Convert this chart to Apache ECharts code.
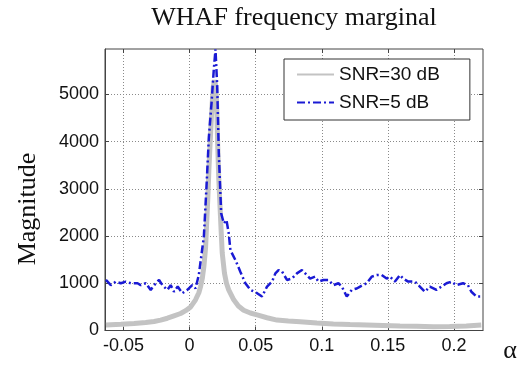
<!DOCTYPE html>
<html><head><meta charset="utf-8">
<script src="https://cdn.jsdelivr.net/npm/echarts@6/dist/echarts.min.js"></script>
<style>html,body{margin:0;padding:0;background:#fff}#c{width:520px;height:365px}</style>
</head><body><div id="c"></div>
<script>
var xTicks = [-0.05, 0, 0.05, 0.1, 0.15, 0.2];
var yTicks = [0, 1000, 2000, 3000, 4000, 5000];

var snr5Alpha = [-0.0633,-0.0596,-0.0558,-0.052,-0.0483,-0.0445,-0.0394,-0.037,-0.0332,-0.0294,-0.0256,-0.0231,-0.0206,-0.0168,-0.0143,-0.0118,-0.009,-0.0055,-0.0017,0.002,0.0045,0.007,
 0.0108,0.0128,0.0146,0.0166,0.0183,0.0196,0.0209,0.0221,0.0239,0.0259,0.0279,0.0296,0.0309,0.0347,0.0384,0.0422,0.046,0.0511,0.0548,0.0586,0.0624,0.0649,0.0673,0.0699,0.0737,0.0775,0.0812,0.085,0.0875,0.0912,0.095,0.0975,0.1013,0.1051,0.1088,0.1126,0.1152,0.1189,0.1227,0.1265,0.129,0.134,0.1378,0.1416,0.1453,0.1491,0.1516,0.1554,0.1592,0.1616,0.1654,0.1705,0.1742,0.178,0.1818,0.1868,0.1906,0.1944,0.1981,0.2019,0.2069,0.2106,0.2132,0.217,0.2207];
var snr5Mag = [1070,960,1035,1000,1035,1000,1000,960,1000,860,1000,1070,960,860,960,820,930,790,860,960,890,1180,
 1990,3050,4100,4810,5520,5950,5170,3750,2480,2270,2340,2060,1700,1490,1245,1000,860,790,720,930,1035,1210,1280,1250,1070,1100,1210,1280,1210,1100,1140,1035,1070,1070,960,1000,930,720,860,890,930,1000,1140,1175,1175,1100,1140,1035,1175,1100,1035,1035,930,820,930,860,930,1000,1035,960,1000,960,820,720,720];

var snr30Alpha = [-0.0633,-0.052,-0.042,-0.0332,-0.0269,-0.0219,-0.0168,-0.0118,-0.0068,-0.003,0.0008,0.0045,0.007,0.0083,0.0096,0.0108,0.0121,0.0128,0.0138,0.0146,0.0155,0.0164,0.0172,0.0179,0.0189,0.0196,0.0204,0.0213,0.0221,0.0229,0.0238,0.0247,0.0264,0.0279,0.0296,0.0334,0.0369,0.0409,0.046,0.0511,0.0586,0.0661,0.0747,0.0837,0.0963,0.1088,0.1214,0.134,0.1465,0.1592,0.1717,0.1843,0.1968,0.2094,0.2207];
var snr30Mag = [116,130,150,170,190,220,260,310,360,420,500,650,800,930,1100,1350,1750,2200,2800,3400,3950,4460,4850,5150,5300,5200,4880,3900,3200,2700,2150,1640,1210,1000,860,650,520,430,370,330,270,220,200,185,160,140,125,115,105,95,90,80,85,95,116];

function pairs(xs, ys){ return xs.map(function(x,i){ return [x, ys[i]]; }); }

var chart = echarts.init(document.getElementById('c'), null, {renderer:'canvas'});
var tickFont = {fontFamily:'Liberation Sans, Arial, sans-serif', fontSize:18, color:'#111'};
var gridLine = {show:true, lineStyle:{color:'#8a8a8a', type:[1,2], width:1}};
var plain = function(v){ return String(v); };
chart.setOption({
  animation:false,
  backgroundColor:'#fff',
  grid:{left:105, right:37, top:49, bottom:34.5, show:true, borderColor:'#444', borderWidth:1, backgroundColor:'#fff'},
  legend:{
    left:284, top:59, orient:'vertical', itemWidth:37, itemHeight:14, itemGap:9, itemTextGap:10,
    padding:[6,30,8,12], borderColor:'#333', borderWidth:1, backgroundColor:'#fff',
    itemStyle:{opacity:0},
    textStyle:{fontFamily:'Liberation Sans, Arial, sans-serif', fontSize:19, color:'#111'},
    data:['SNR=30 dB','SNR=5 dB']
  },
  xAxis:[{
    type:'value', min:-0.064, max:0.222,
    axisLine:{show:true, onZero:false, lineStyle:{color:'#444'}},
    axisTick:{show:true, inside:true, length:4, customValues:xTicks, lineStyle:{color:'#444'}},
    axisLabel:Object.assign({customValues:xTicks, margin:7, formatter:plain}, tickFont),
    splitLine:gridLine
  },{
    type:'value', position:'top', min:-0.064, max:0.222,
    axisLine:{show:false, onZero:false},
    axisTick:{show:true, inside:true, length:4, customValues:xTicks, lineStyle:{color:'#444'}},
    axisLabel:{show:false}, splitLine:{show:false}
  }],
  yAxis:[{
    type:'value', min:0, max:5960,
    axisLine:{show:true, onZero:false, lineStyle:{color:'#444'}},
    axisTick:{show:true, inside:true, length:4, customValues:yTicks, lineStyle:{color:'#444'}},
    axisLabel:Object.assign({customValues:yTicks, margin:6, formatter:plain}, tickFont),
    splitLine:gridLine
  },{
    type:'value', position:'right', min:0, max:5960,
    axisLine:{show:false, onZero:false},
    axisTick:{show:true, inside:true, length:4, customValues:yTicks, lineStyle:{color:'#444'}},
    axisLabel:{show:false}, splitLine:{show:false}
  }],
  graphic:[
    {type:'text', x:294, y:18, style:{text:'WHAF frequency marginal', font:'26px "Liberation Serif", "Times New Roman", serif', fill:'#111', align:'center', verticalAlign:'middle'}},
    {type:'text', x:28, y:209, rotation:Math.PI/2, style:{text:'Magnitude', font:'26px "Liberation Serif", "Times New Roman", serif', fill:'#111', align:'center', verticalAlign:'middle'}},
    {type:'text', x:510, y:351, style:{text:'α', font:'26px "Liberation Serif", "Times New Roman", serif', fill:'#111', align:'center', verticalAlign:'middle'}}
  ],
  series:[
    {name:'SNR=30 dB', type:'line', symbol:'none', data:pairs(snr30Alpha, snr30Mag),
     lineStyle:{color:'#c3c3c3', width:5}, itemStyle:{color:'#c3c3c3'}, z:2},
    {name:'SNR=5 dB', type:'line', symbol:'none', data:pairs(snr5Alpha, snr5Mag),
     lineStyle:{color:'#1a1ad4', width:2.5, type:[8,3,2,3]}, itemStyle:{color:'#1a1ad4'}, z:3}
  ]
});
</script></body></html>
